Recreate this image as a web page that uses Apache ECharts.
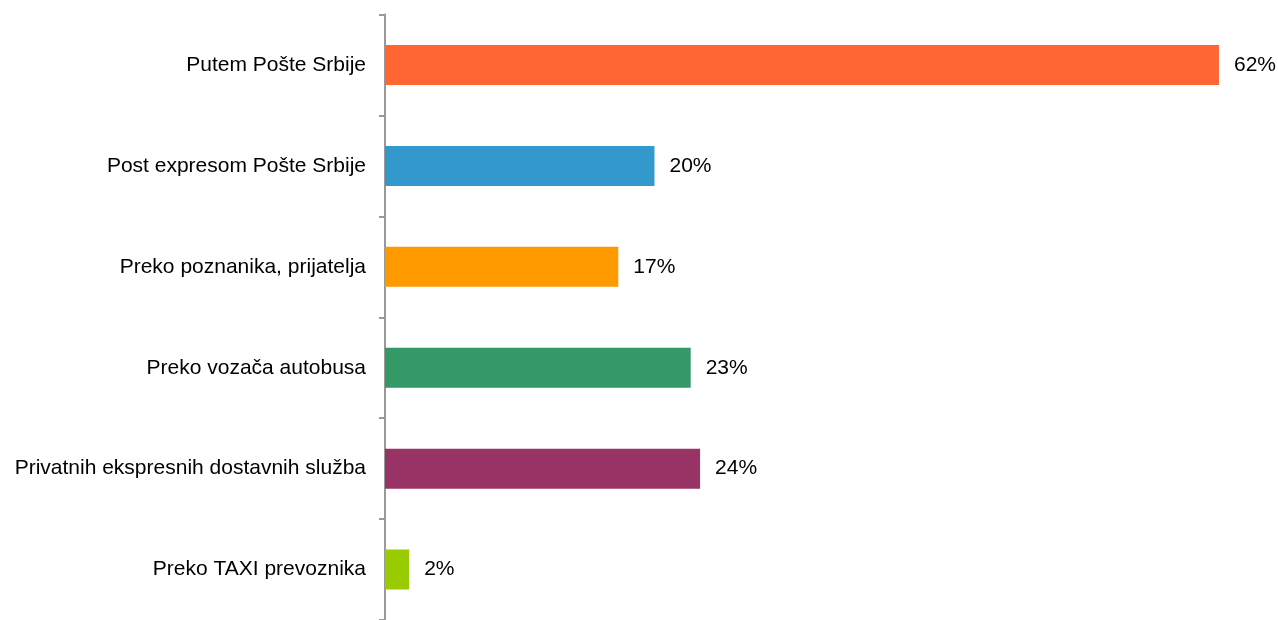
<!DOCTYPE html>
<html>
<head>
<meta charset="utf-8">
<script src="https://cdn.jsdelivr.net/npm/echarts@6/dist/echarts.min.js"></script>
<style>html,body{margin:0;padding:0;background:#fff}#c{width:1278px;height:620px}</style>
</head>
<body>
<div id="c"></div>
<script>
var categories = ["Putem Pošte Srbije", "Post expresom Pošte Srbije", "Preko poznanika, prijatelja", "Preko vozača autobusa", "Privatnih ekspresnih dostavnih služba", "Preko TAXI prevoznika"];
var values = [62.2, 20.1, 17.4, 22.8, 23.5, 1.8];
var colors = ["#FF6633", "#3399CC", "#FF9900", "#339966", "#993366", "#99CC00"];

var chart = echarts.init(document.getElementById('c'), null, {renderer: 'canvas'});
chart.setOption({
  animation: false,
  backgroundColor: '#ffffff',
  grid: {left: 385, top: 14.5, width: 871.5, height: 609.6, containLabel: false},
  xAxis: {type: 'value', min: 0, max: 65, show: false},
  yAxis: {
    type: 'category', data: categories, inverse: true,
    axisLine: {show: true, lineStyle: {color: '#999999', width: 2}},
    axisTick: {show: true, length: 6, lineStyle: {color: '#999999', width: 2}},
    axisLabel: {margin: 19, color: '#000000', fontFamily: 'Liberation Sans, Arial, sans-serif', fontSize: 21},
    splitLine: {show: false}
  },
  series: [{
    type: 'bar', barWidth: 40,
    data: values.map(function (v, i) { return {value: v, itemStyle: {color: colors[i]}}; }),
    label: {show: true, position: 'right', distance: 15, color: '#000000', fontFamily: 'Liberation Sans, Arial, sans-serif', fontSize: 21,
      formatter: function (p) { return Math.round(p.value) + '%'; }}
  }]
});
</script>
</body>
</html>
